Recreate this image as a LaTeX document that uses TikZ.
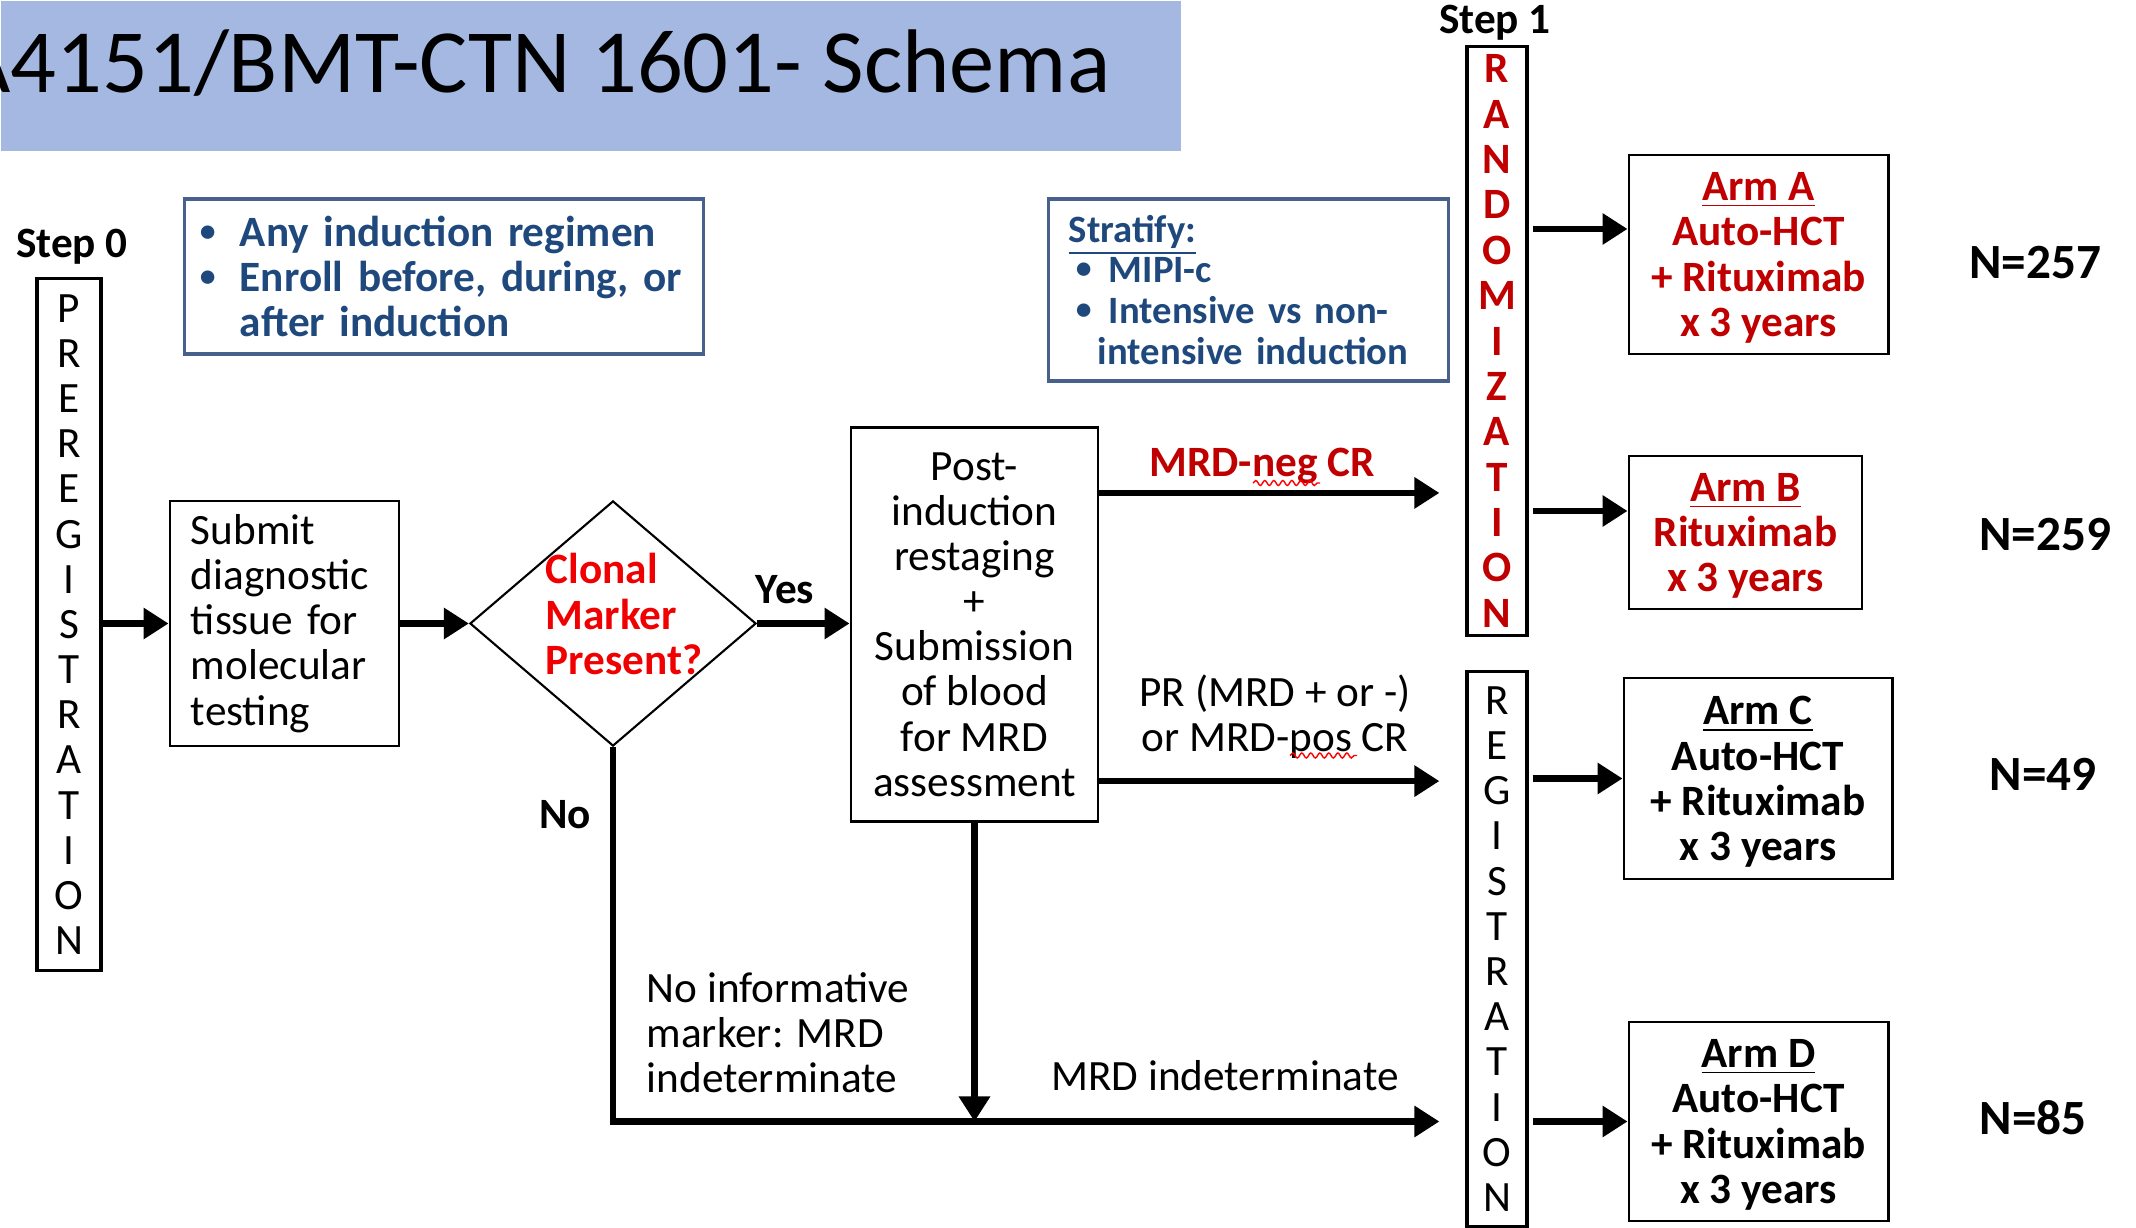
\documentclass[tikz,border=0pt]{standalone}
\usepackage{fontspec}
\setmainfont{Carlito}
\usetikzlibrary{positioning, arrows.meta, shapes.geometric, decorations.pathmorphing}
\definecolor{BannerBlue}{RGB}{164,184,225}
\definecolor{NavyText}{RGB}{31,73,125}
\definecolor{NavyEdge}{RGB}{72,96,140}
\definecolor{MarkRed}{RGB}{240,0,0}
\definecolor{ArmRed}{RGB}{192,0,0}

% small list bullet
\newcommand{\dotitem}{\raisebox{0.12em}{\fontsize{9}{9}\selectfont\textbullet}}

\begin{document}
\begin{tikzpicture}[
        x=0.01cm, y=-0.01cm,
        box/.style={
            rectangle,
            draw,
            line width=0.8pt,
            align=center,
            inner sep=0pt,
            font=\fontsize{12.3}{12.85}\selectfont
        },
        letters/.style={box, line width=0.9pt},
        armbox/.style={box, text depth=0pt, font=\fontsize{12.3}{12.85}\selectfont\bfseries},
        note/.style={
            rectangle,
            draw=NavyEdge,
            line width=0.9pt,
            text=NavyText,
            align=left,
            inner ysep=0pt
        },
        lbl/.style={inner sep=0pt, font=\fontsize{12.3}{12.85}\selectfont},
        boldlbl/.style={inner sep=0pt, font=\fontsize{12.3}{12.85}\selectfont\bfseries},
        nlbl/.style={inner sep=0pt, font=\fontsize{14}{16}\selectfont\bfseries},
        arrow/.style={-{Triangle[length=2.5mm, width=3mm]}, line width=1.8pt},
        gap/.style={shorten >=0.26cm},
        squig/.style={red, line width=0.4pt, decorate,
            decoration={snake, amplitude=0.25mm, segment length=0.9mm}}
    ]
    \useasboundingbox (0,0) rectangle (2136,1228);

    % Titel
    \node[fill=BannerBlue, minimum width=11.8cm, minimum height=1.5cm, inner sep=0pt, anchor=north west] (banner) at (0,0) {};
    \node[anchor=base west, inner sep=0pt, font=\fontsize{25.7}{30}\selectfont] (title) at (10,93) {\llap{A}4151/BMT-CTN 1601- Schema};

    % Step 0
    \node[boldlbl] (stepzero) at (72,247) {Step 0};
    \node[letters, minimum width=0.64cm, minimum height=6.91cm] (prereg) at (69,624.5)
        {P\\R\\E\\R\\E\\G\\I\\S\\T\\R\\A\\T\\I\\O\\N};
    \node[note, text width=4.88cm, inner xsep=0.15cm, minimum height=1.55cm,
          font=\fontsize{12.3}{12.85}\selectfont\bfseries] (induct) at (444,276.5)
        {\makebox[0.4cm][l]{\dotitem}Any induction regimen\\
         \makebox[0.4cm][l]{\dotitem}Enroll before, during, or\\
         \hspace*{0.4cm}after induction};
    \node[box, align=left, text width=1.87cm, inner xsep=0.21cm, minimum height=2.45cm] (submit) at (284.5,623.5)
        {Submit\\diagnostic\\tissue for\\molecular\\testing};
    \node[diamond, draw, line width=0.6pt, minimum width=2.86cm, minimum height=2.45cm, inner sep=0pt] (marker) at (613,623.5) {};
    \node[boldlbl, align=left, text=MarkRed, anchor=west] (markertxt) at (545,614) {Clonal\\Marker\\Present?};
    \node[boldlbl] (yes) at (785,590) {Yes};
    \node[boldlbl] (no) at (565,815) {No};
    \node[box, minimum width=2.47cm, minimum height=3.93cm] (post) at (974.5,624.5)
        {Post-\\induction\\restaging\\+\\Submission\\of blood\\for MRD\\assessment};
    \node[lbl, align=left, anchor=west] (noinfo) at (646,1032.5) {No informative\\marker: MRD\\indeterminate};

    % Step 1
    \node[note, text width=3.59cm, inner xsep=0.2cm, minimum height=1.82cm,
          font=\fontsize{11}{11.64}\selectfont\bfseries] (strat) at (1248.5,290)
        {\underline{Stratify:}\\
         \hspace*{0.07cm}\makebox[0.33cm][l]{\dotitem}MIPI-c\\
         \hspace*{0.07cm}\makebox[0.33cm][l]{\dotitem}Intensive vs non-\\
         \hspace*{0.29cm}intensive induction};
    \node[boldlbl] (stepone) at (1495,23) {Step 1};
    \node[letters, minimum width=0.6cm, minimum height=5.88cm, text=ArmRed,
          font=\fontsize{12.3}{12.9}\selectfont\bfseries] (rand) at (1497,341)
        {R\\A\\N\\D\\O\\M\\I\\Z\\A\\T\\I\\O\\N};
    \node[letters, minimum width=0.6cm, minimum height=5.54cm] (regis) at (1497,949)
        {R\\E\\G\\I\\S\\T\\R\\A\\T\\I\\O\\N};
    \node[boldlbl, text=ArmRed] (neglbl) at (1262,466) {MRD-neg CR};
    \node[lbl, align=center] (prlbl) at (1275,716.5) {PR (MRD + or -)\\or MRD-pos CR};
    \node[lbl] (indet) at (1225,1076) {MRD indeterminate};
    \draw[squig] ([shift={(-9,17)}]neglbl.center) -- ++(67,0);
    \draw[squig] ([shift={(15,39)}]prlbl.center) -- ++(67,0);

    % Arme
    \node[armbox, text=ArmRed, minimum width=2.59cm, minimum height=1.99cm] (arma) at (1758.5,254.5)
        {\underline{Arm A}\\Auto-HCT\\+ Rituximab\\x 3 years};
    \node[armbox, text=ArmRed, minimum width=2.33cm, minimum height=1.53cm] (armb) at (1745.5,532.5)
        {\underline{Arm B}\\Rituximab\\x 3 years};
    \node[armbox, minimum width=2.68cm, minimum height=2.01cm] (armc) at (1758,778.5)
        {\underline{Arm C}\\Auto-HCT\\+ Rituximab\\x 3 years};
    \node[armbox, minimum width=2.59cm, minimum height=1.99cm] (armd) at (1758.5,1121.5)
        {\underline{Arm D}\\Auto-HCT\\+ Rituximab\\x 3 years};
    \node[nlbl] (na) at (2035,263) {N=257};
    \node[nlbl] (nb) at (2045,535) {N=259};
    \node[nlbl] (nc) at (2043,774) {N=49};
    \node[nlbl] (nd) at (2033,1118) {N=85};

    \coordinate (negout) at ([yshift=1.315cm]post.east);
    \coordinate (prout) at ([yshift=-1.565cm]post.east);
    \coordinate (ina) at ([yshift=0.255cm]arma.west);
    \coordinate (inb) at ([yshift=0.215cm]armb.west);

    % Pfeile
    \draw[arrow] (submit.west -| prereg.east) -- (submit.west);
    \draw[arrow] (submit) -- (marker);
    \draw[arrow] (marker.east) -- (marker.east -| post.west);
    \draw[arrow, gap] (negout) -- (negout -| rand.west);
    \draw[arrow, gap] (prout) -- (prout -| regis.west);
    \draw[arrow, gap] (marker.south) |- (armd.west -| regis.west);
    \draw[arrow] (post.south) -- (post.south |- armd.west);
    \draw[arrow, shorten <=0.04cm] (ina -| rand.east) -- (ina);
    \draw[arrow, shorten <=0.04cm] (inb -| rand.east) -- (inb);
    \draw[arrow, shorten <=0.04cm] (armc.west -| regis.east) -- (armc.west);
    \draw[arrow, shorten <=0.04cm] (armd.west -| regis.east) -- (armd.west);

\end{tikzpicture}
\end{document}
